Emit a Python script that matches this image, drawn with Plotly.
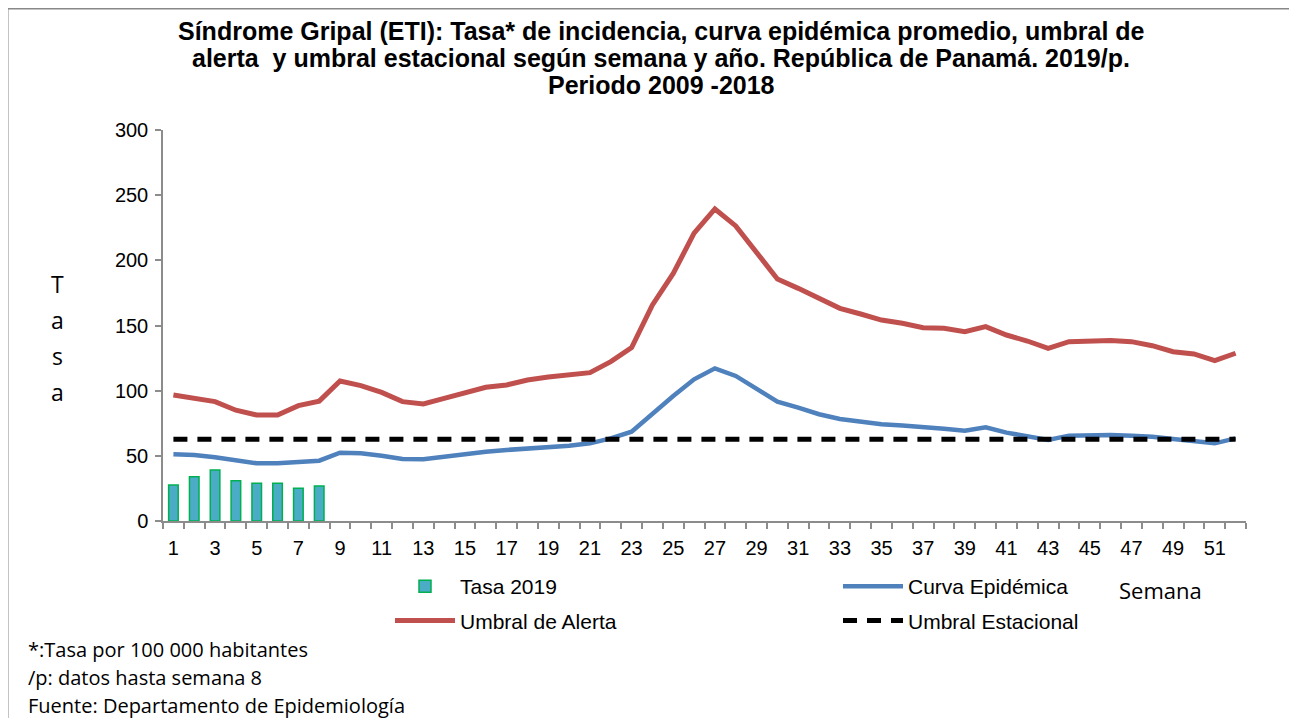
import plotly.graph_objects as go

semanas = list(range(1, 53))

tasa_2019 = [27.6, 34.0, 39.1, 30.9, 28.9, 28.9, 25.1, 26.9]

curva_epidemica = [51.2, 50.6, 48.9, 46.3, 44.3, 44.3, 45.5, 46.3, 52.4, 51.9,
                   50.1, 47.6, 47.3, 49.4, 51.2, 53.2, 54.5, 55.5, 56.5, 57.8,
                   59.6, 63.4, 68.5, 82.6, 95.9, 108.7, 117.1, 111.3, 101.8, 91.6,
                   87.0, 81.9, 78.3, 76.2, 74.2, 73.2, 71.6, 70.8, 69.3, 71.9,
                   67.8, 64.7, 62.2, 65.5, 66.0, 66.0, 65.5, 64.7, 62.9, 61.6,
                   59.6, 63.4]

umbral_alerta = [96.7, 94.6, 91.6, 85.0, 81.3, 81.3, 88.5, 92.0, 107.4, 103.9,
                 98.7, 91.6, 89.8, 94.1, 98.0, 102.6, 104.4, 108.2, 110.5, 112.0,
                 113.8, 122.3, 133.0, 165.8, 190.0, 220.8, 239.4, 226.4, 205.4, 185.7,
                 178.5, 170.4, 163.2, 158.8, 154.2, 151.7, 148.3, 147.9, 145.3, 149.1,
                 142.7, 138.1, 132.5, 137.6, 138.1, 138.4, 137.6, 134.5, 129.9, 128.2,
                 123.0, 128.7]

umbral_estacional = [62.7] * 52

tick_semanas = list(range(1, 52, 2))

titulo = ['Síndrome Gripal (ETI): Tasa* de incidencia, curva epidémica promedio, umbral de',
          'alerta  y umbral estacional según semana y año. República de Panamá. 2019/p.',
          'Periodo 2009 -2018']
notas = ['*:Tasa por 100 000 habitantes', '/p: datos hasta semana 8',
         'Fuente: Departamento de Epidemiología']

# the page body has an 8px margin, so page coordinates are shifted by OFF
OFF = 8
W, H = 1289, 710
ML, MR, MT, MB = 155, 51, 122, 197
PW, PH = W - ML - MR, H - MT - MB


def px_x(px):
    return (px - OFF - ML) / PW


def px_y(py):
    return (H - MB - (py - OFF)) / PH


fig = go.Figure()

fig.add_trace(go.Bar(x=semanas[:len(tasa_2019)], y=tasa_2019, name='Tasa 2019',
                     width=0.46, marker=dict(color='#4BACC6', line=dict(color='#00B050', width=1.5)),
                     legend='legend', legendgroup='a'))
fig.add_trace(go.Scatter(x=semanas, y=curva_epidemica, name='Curva Epidémica', mode='lines',
                         line=dict(color='#4F81BD', width=4.5),
                         legend='legend2', legendgroup='b'))
fig.add_trace(go.Scatter(x=semanas, y=umbral_alerta, name='Umbral de Alerta', mode='lines',
                         line=dict(color='#C0504D', width=5),
                         legend='legend', legendgroup='c'))
fig.add_trace(go.Scatter(x=semanas, y=umbral_estacional, name='Umbral Estacional', mode='lines',
                         line=dict(color='black', width=5, dash='14px,10px'),
                         legend='legend2', legendgroup='d'))

annotations = []
for i, linea in enumerate(titulo):
    annotations.append(dict(text='<b>' + linea + '</b>', x=px_x(661), y=px_y(31 + i * 27),
                            xref='paper', yref='paper', showarrow=False,
                            xanchor='center', yanchor='middle',
                            font=dict(family='Liberation Sans, Arial', size=25, color='black')))
for i, letra in enumerate('Tasa'):
    annotations.append(dict(text=letra, x=px_x(57), y=px_y(284 + i * 36), xref='paper', yref='paper',
                            showarrow=False, xanchor='center', yanchor='middle',
                            font=dict(family='Open Sans', size=23, color='black')))
annotations.append(dict(text='Semana', x=px_x(1160), y=px_y(590), xref='paper', yref='paper',
                        showarrow=False, xanchor='center', yanchor='middle',
                        font=dict(family='Open Sans', size=22, color='black')))
for i, nota in enumerate(notas):
    annotations.append(dict(text=nota, x=px_x(26), y=px_y(649 + i * 28), xref='paper', yref='paper',
                            showarrow=False, xanchor='left', yanchor='middle',
                            font=dict(family='Open Sans', size=20, color='black')))

leg_font = dict(family='Liberation Sans, Arial', size=21, color='black')

fig.update_layout(
    width=W, height=H,
    margin=dict(l=ML, r=MR, t=MT, b=MB),
    paper_bgcolor='#FFFFE6',
    plot_bgcolor='white',
    showlegend=True,
    legend=dict(x=px_x(390), y=px_y(566), xanchor='left', yanchor='top', orientation='v',
                font=leg_font, bgcolor='rgba(0,0,0,0)', tracegroupgap=4, itemwidth=60),
    legend2=dict(x=px_x(838), y=px_y(566), xanchor='left', yanchor='top', orientation='v',
                 font=leg_font, bgcolor='rgba(0,0,0,0)', tracegroupgap=4, itemwidth=60),
    annotations=annotations,
    shapes=[dict(type='rect', xref='paper', yref='paper', layer='below',
                 x0=px_x(7), x1=px_x(1295), y0=px_y(740), y1=px_y(8),
                 fillcolor='white', line=dict(color='#888888', width=3))],
    xaxis=dict(range=[0.5, 52.5], tickmode='array', tickvals=tick_semanas, ticks='',
               ticklabelstandoff=8,
               showline=True, linecolor='#8C8C8C', linewidth=1.5, showgrid=False, zeroline=False,
               tickfont=dict(family='Liberation Sans, Arial', size=20, color='black'),
               minor=dict(tick0=0.5, dtick=1, ticks='outside', ticklen=6, tickcolor='#8C8C8C',
                          tickwidth=1.5, showgrid=False)),
    yaxis=dict(range=[0, 300], dtick=50, ticks='outside', ticklen=6, tickcolor='#8C8C8C', tickwidth=1.5,
               ticklabelstandoff=3,
               showline=True, linecolor='#8C8C8C', linewidth=1.5, showgrid=False, zeroline=False,
               tickfont=dict(family='Liberation Sans, Arial', size=20, color='black')),
)

fig.write_html('out.html')
